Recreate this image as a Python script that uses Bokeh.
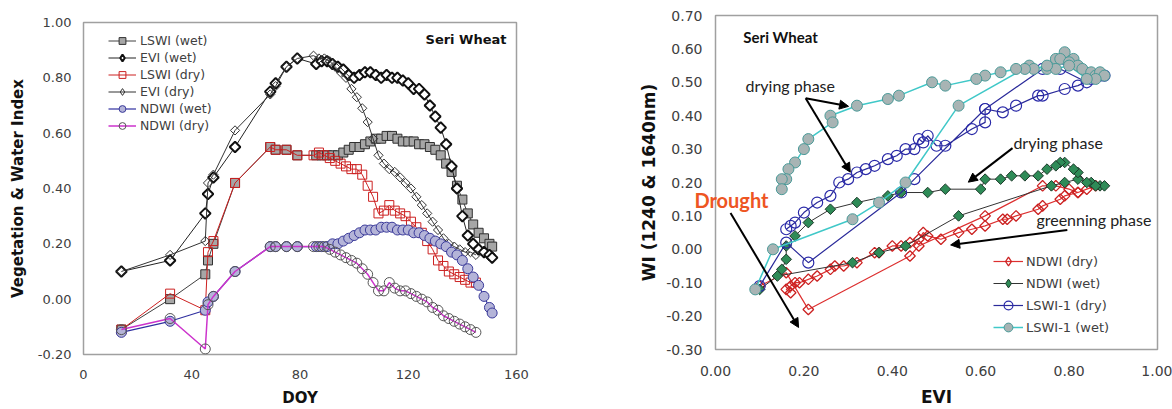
import numpy as np
from bokeh.plotting import figure
from bokeh.layouts import row
from bokeh.models import (Legend, LegendItem, Label, Arrow, NormalHead, LinearAxis,
                          NumeralTickFormatter, FixedTicker)
from bokeh.embed import file_html
from bokeh.resources import INLINE

# ---------------- Left panel data (DOY time series) ----------------
doy_wet = [14, 32, 45, 46, 48, 56, 69, 71, 75, 79,
           86, 88, 90, 92, 94, 96, 98, 100, 102, 104, 106, 108, 110, 112, 114, 116,
           118, 120, 122, 124, 126, 128, 130, 132, 134, 136, 138, 140, 142, 144, 146,
           148, 150, 151]
lswi_wet = [-0.11, 0.00, 0.09, 0.14, 0.20, 0.42, 0.55, 0.54, 0.54, 0.52,
            0.52, 0.52, 0.52, 0.52, 0.52, 0.53, 0.54, 0.55, 0.55, 0.56, 0.57, 0.58, 0.58, 0.59, 0.59, 0.58,
            0.57, 0.57, 0.57, 0.56, 0.56, 0.55, 0.54, 0.52, 0.49, 0.46, 0.41, 0.36, 0.31, 0.27, 0.24,
            0.22, 0.20, 0.19]
evi_wet = [0.10, 0.14, 0.31, 0.38, 0.44, 0.55, 0.75, 0.78, 0.84, 0.87,
           0.85, 0.86, 0.86, 0.85, 0.84, 0.83, 0.81, 0.80, 0.81, 0.82, 0.82, 0.81, 0.80, 0.81, 0.80, 0.80,
           0.79, 0.78, 0.76, 0.76, 0.74, 0.70, 0.66, 0.62, 0.56, 0.48, 0.40, 0.30, 0.23, 0.20, 0.18,
           0.17, 0.16, 0.15]
ndwi_wet = [-0.12, -0.08, -0.04, -0.01, 0.01, 0.10, 0.19, 0.19, 0.19, 0.19,
            0.19, 0.19, 0.19, 0.20, 0.20, 0.21, 0.22, 0.23, 0.24, 0.25, 0.25, 0.25, 0.26, 0.26, 0.26, 0.25,
            0.25, 0.25, 0.24, 0.24, 0.23, 0.22, 0.21, 0.20, 0.19, 0.17, 0.16, 0.14, 0.11, 0.08, 0.05,
            0.01, -0.03, -0.05]

doy_dry = [14, 32, 45, 46, 48, 56, 69, 71, 75, 79,
           85, 87, 89, 91, 93, 95, 97, 99, 101, 103, 105, 107, 109, 111, 113, 115,
           117, 119, 121, 123, 125, 127, 129, 131, 133, 135, 137, 139, 141, 143, 145]
lswi_dry = [-0.11, 0.02, -0.04, 0.17, 0.21, 0.42, 0.55, 0.54, 0.54, 0.52,
            0.52, 0.53, 0.52, 0.51, 0.50, 0.49, 0.48, 0.47, 0.47, 0.45, 0.41, 0.37, 0.31, 0.32, 0.34, 0.32,
            0.31, 0.30, 0.28, 0.26, 0.24, 0.21, 0.18, 0.14, 0.12, 0.10, 0.09, 0.08, 0.07, 0.06, 0.06]
evi_dry = [0.10, 0.16, 0.21, 0.42, 0.45, 0.61, 0.74, 0.77, 0.84, 0.87,
           0.88, 0.87, 0.87, 0.86, 0.84, 0.82, 0.80, 0.76, 0.73, 0.69, 0.64, 0.58, 0.52, 0.49, 0.47, 0.46,
           0.44, 0.42, 0.40, 0.37, 0.34, 0.31, 0.28, 0.25, 0.22, 0.20, 0.19, 0.18, 0.17, 0.17, 0.16]
ndwi_dry = [-0.11, -0.07, -0.18, -0.02, 0.01, 0.10, 0.19, 0.19, 0.19, 0.19,
            0.19, 0.19, 0.19, 0.18, 0.17, 0.16, 0.15, 0.14, 0.13, 0.11, 0.09, 0.06, 0.03, 0.03, 0.06, 0.04,
            0.03, 0.03, 0.02, 0.01, 0.00, -0.01, -0.03, -0.04, -0.06, -0.07, -0.08, -0.09, -0.10, -0.11, -0.12]

# ---------------- Right panel data (EVI vs WI) ----------------
r_ndwi_dry_x = [0.10, 0.16, 0.21, 0.44, 0.46, 0.61, 0.74, 0.77, 0.80, 0.82, 0.84, 0.86,
                0.82, 0.79, 0.78, 0.74, 0.73, 0.68, 0.66, 0.65, 0.61, 0.58, 0.55, 0.51, 0.48, 0.47,
                0.46, 0.44, 0.42, 0.40, 0.37, 0.36, 0.32, 0.29, 0.27, 0.26, 0.23, 0.21, 0.19, 0.18,
                0.17, 0.16, 0.17]
r_ndwi_dry_y = [-0.11, -0.07, -0.18, -0.02, 0.01, 0.10, 0.19, 0.19, 0.18, 0.17, 0.18, 0.19,
                0.17, 0.16, 0.15, 0.13, 0.12, 0.10, 0.09, 0.09, 0.07, 0.06, 0.05, 0.03, 0.04, 0.05,
                0.03, 0.02, 0.01, 0.01, -0.01, -0.01, -0.04, -0.05, -0.05, -0.06, -0.08, -0.09, -0.10, -0.10,
                -0.11, -0.12, -0.13]
r_ndwi_wet_x = [0.10, 0.14, 0.31, 0.37, 0.43, 0.55, 0.76, 0.79, 0.82, 0.85, 0.87, 0.88,
                0.86, 0.84, 0.82, 0.81, 0.79, 0.78, 0.77, 0.75, 0.73, 0.70, 0.67, 0.645, 0.61,
                0.60, 0.52, 0.48, 0.42, 0.39, 0.32, 0.26, 0.21, 0.18, 0.16, 0.16, 0.15]
r_ndwi_wet_y = [-0.12, -0.08, -0.04, -0.01, 0.01, 0.10, 0.19, 0.20, 0.21, 0.20, 0.19, 0.19,
                0.19, 0.20, 0.23, 0.24, 0.26, 0.26, 0.25, 0.24, 0.22, 0.22, 0.22, 0.21, 0.21,
                0.18, 0.18, 0.17, 0.17, 0.16, 0.14, 0.12, 0.08, 0.04, 0.01, -0.03, -0.06]
r_lswi_dry_x = [0.10, 0.16, 0.21, 0.42, 0.45, 0.61, 0.74, 0.78, 0.84, 0.87, 0.88, 0.85,
                0.82, 0.79, 0.74, 0.73, 0.68, 0.65, 0.61, 0.61, 0.58, 0.52, 0.50, 0.48, 0.47,
                0.46, 0.45, 0.43, 0.41, 0.39, 0.36, 0.34, 0.32, 0.30, 0.28, 0.26, 0.23, 0.20,
                0.18, 0.17, 0.16]
r_lswi_dry_y = [-0.11, 0.02, -0.04, 0.17, 0.21, 0.42, 0.54, 0.54, 0.50, 0.52, 0.52, 0.51,
                0.49, 0.48, 0.46, 0.46, 0.43, 0.41, 0.42, 0.38, 0.36, 0.31, 0.31, 0.34, 0.32,
                0.33, 0.30, 0.30, 0.28, 0.27, 0.25, 0.24, 0.23, 0.21, 0.20, 0.16, 0.14, 0.11,
                0.08, 0.07, 0.06]
r_lswi_wet_x = [0.09, 0.13, 0.31, 0.37, 0.43, 0.55, 0.71, 0.75, 0.77, 0.79, 0.81, 0.78,
                0.80, 0.82, 0.83, 0.85, 0.86, 0.87, 0.88, 0.86, 0.84, 0.80, 0.77, 0.75, 0.72,
                0.70, 0.68, 0.645, 0.61, 0.59, 0.52, 0.49, 0.415, 0.39, 0.32, 0.26, 0.265, 0.21,
                0.20, 0.18, 0.165, 0.16, 0.15, 0.15]
r_lswi_wet_y = [-0.12, 0.00, 0.09, 0.14, 0.20, 0.43, 0.55, 0.54, 0.57, 0.59, 0.57, 0.57,
                0.56, 0.55, 0.54, 0.53, 0.52, 0.53, 0.52, 0.51, 0.51, 0.55, 0.54, 0.55, 0.54,
                0.54, 0.54, 0.53, 0.52, 0.51, 0.49, 0.50, 0.46, 0.45, 0.43, 0.40, 0.38, 0.33,
                0.30, 0.26, 0.24, 0.21, 0.21, 0.18]

left_ticks_x = [0, 40, 80, 120, 160]
left_ticks_y = [-0.2, 0.0, 0.2, 0.4, 0.6, 0.8, 1.0]
right_ticks_x = [0.0, 0.2, 0.4, 0.6, 0.8, 1.0]
right_ticks_y = [-0.3, -0.2, -0.1, 0.0, 0.1, 0.2, 0.3, 0.4, 0.5, 0.6, 0.7]

TICKF = "DejaVu Sans"
ANN = "Lato"
ROT = np.pi / 4


def style(p, xt, yt, xlabel, ylabel, tick_size, title_size, ystand, xstand, ytitle_stand, xtitle_stand):
    p.xgrid.visible = False
    p.ygrid.visible = False
    p.outline_line_color = "#a0a0a0"
    p.outline_line_width = 1.5
    p.background_fill_color = "white"
    p.border_fill_color = "white"
    p.xaxis.ticker = FixedTicker(ticks=xt)
    p.yaxis.ticker = FixedTicker(ticks=yt)
    for ax in (p.xaxis[0], p.yaxis[0]):
        ax.axis_line_color = None
        ax.major_tick_line_color = None
        ax.minor_tick_line_color = None
        ax.major_tick_out = 0
        ax.major_tick_in = 0
        ax.major_label_text_font = TICKF
        ax.major_label_text_font_size = tick_size
        ax.major_label_text_color = "#404040"
        ax.axis_label_text_font = TICKF
        ax.axis_label_text_font_style = "bold"
        ax.axis_label_text_font_size = title_size
        ax.axis_label_text_color = "#111111"
    p.xaxis.axis_label = xlabel
    p.yaxis.axis_label = ylabel
    p.yaxis.major_label_standoff = ystand
    p.xaxis.major_label_standoff = xstand
    p.yaxis.axis_label_standoff = ytitle_stand
    p.xaxis.axis_label_standoff = xtitle_stand


# ---------------- Left figure ----------------
p1 = figure(width=560, height=409, x_range=(0, 160), y_range=(-0.2, 1.0),
            output_backend="svg", toolbar_location=None, frame_align=False,
            min_border_left=83, min_border_right=44, min_border_top=22, min_border_bottom=54)
style(p1, left_ticks_x, left_ticks_y, "DOY", "Vegetation & Water Index",
      "13px", "15px", 12, 15, 8, 7)
p1.yaxis.formatter = NumeralTickFormatter(format="0.00")
p1.xaxis.formatter = NumeralTickFormatter(format="0")

l1 = p1.line(doy_wet, lswi_wet, line_color="#404040", line_width=1)
s1 = p1.scatter(doy_wet, lswi_wet, marker="square", size=9, fill_color="#a6a6a6",
                line_color="#303030", line_width=1)
l2 = p1.line(doy_wet, evi_wet, line_color="#222222", line_width=1)
s2 = p1.scatter(doy_wet, evi_wet, marker="square", angle=ROT, size=7.5, fill_color="white",
                line_color="#111111", line_width=2)
l3 = p1.line(doy_dry, lswi_dry, line_color="#cc2020", line_width=1)
s3 = p1.scatter(doy_dry, lswi_dry, marker="square", size=9, fill_color=None,
                line_color="#cc2020", line_width=1)
l4 = p1.line(doy_dry, evi_dry, line_color="#333333", line_width=1)
s4 = p1.scatter(doy_dry, evi_dry, marker="square", angle=ROT, size=6.5, fill_color=None,
                line_color="#333333", line_width=1)
l5 = p1.line(doy_wet, ndwi_wet, line_color="#3030a0", line_width=1.2)
s5 = p1.scatter(doy_wet, ndwi_wet, marker="circle", size=10, fill_color="#b4b4d8",
                line_color="#3a3a9a", line_width=1)
l6 = p1.line(doy_dry, ndwi_dry, line_color="#cc33cc", line_width=1.5)
s6 = p1.scatter(doy_dry, ndwi_dry, marker="circle", size=10, fill_color=None,
                line_color="#555555", line_width=1)
# hidden diamond twins: legend swatches ignore rotation, so the key uses true diamonds
d2 = p1.scatter(doy_wet, evi_wet, marker="diamond", fill_color="white",
                line_color="#111111", line_width=2, visible=False)
d4 = p1.scatter(doy_dry, evi_dry, marker="diamond", fill_color=None,
                line_color="#333333", line_width=1, visible=False)

leg1 = Legend(items=[
    LegendItem(label="LSWI (wet)", renderers=[l1, s1]),
    LegendItem(label="EVI (wet)", renderers=[l2, d2]),
    LegendItem(label="LSWI (dry)", renderers=[l3, s3]),
    LegendItem(label="EVI (dry)", renderers=[l4, d4]),
    LegendItem(label="NDWI (wet)", renderers=[l5, s5]),
    LegendItem(label="NDWI (dry)", renderers=[l6, s6]),
], location=(25, 220), glyph_width=28, glyph_height=17, label_height=17, spacing=0,
    padding=0, margin=0, label_standoff=4, label_text_font=TICKF,
    label_text_font_size="12.5px", label_text_color="#404040",
    border_line_color=None, background_fill_alpha=0)
p1.add_layout(leg1)

p1.add_layout(Label(x=156.3, y=0.939, text="Seri Wheat", text_align="right",
                    text_baseline="middle", text_font=TICKF, text_font_style="bold",
                    text_font_size="13px", text_color="#111111"))

# ---------------- Right figure ----------------
p2 = figure(width=612, height=409, x_range=(0, 1.0), y_range=(-0.3, 0.7),
            output_backend="svg", toolbar_location=None, frame_align=False,
            min_border_left=155, min_border_right=15, min_border_top=15, min_border_bottom=59)
style(p2, right_ticks_x, right_ticks_y, "EVI", "WI (1240 & 1640nm)",
      "14px", "17px", 13, 16, 4, 8)
p2.yaxis.formatter = NumeralTickFormatter(format="0.00")
p2.xaxis.formatter = NumeralTickFormatter(format="0.00")

m1 = p2.line(r_ndwi_dry_x, r_ndwi_dry_y, line_color="#dd3030", line_width=1.2)
t1 = p2.scatter(r_ndwi_dry_x, r_ndwi_dry_y, marker="square", angle=ROT, size=7.5,
                fill_color=None, line_color="#cc2222", line_width=1.3)
m2 = p2.line(r_ndwi_wet_x, r_ndwi_wet_y, line_color="#333333", line_width=1)
t2 = p2.scatter(r_ndwi_wet_x, r_ndwi_wet_y, marker="square", angle=ROT, size=7.5,
                fill_color="#2e8b57", line_color="#1c3a2a", line_width=1)
m3 = p2.line(r_lswi_dry_x, r_lswi_dry_y, line_color="#2a2a9a", line_width=1.2)
t3 = p2.scatter(r_lswi_dry_x, r_lswi_dry_y, marker="circle", size=11, fill_color=None,
                line_color="#2a2aa8", line_width=1.2)
m4 = p2.line(r_lswi_wet_x, r_lswi_wet_y, line_color="#40c8c8", line_width=1.5)
t4 = p2.scatter(r_lswi_wet_x, r_lswi_wet_y, marker="circle", size=11, fill_color="#a8b4b4",
                line_color="#4a9a98", line_width=1)
e1 = p2.scatter(r_ndwi_dry_x, r_ndwi_dry_y, marker="diamond", fill_color=None,
                line_color="#cc2222", line_width=1.3, visible=False)
e2 = p2.scatter(r_ndwi_wet_x, r_ndwi_wet_y, marker="diamond", fill_color="#2e8b57",
                line_color="#1c3a2a", line_width=1, visible=False)

leg2 = Legend(items=[
    LegendItem(label="NDWI (dry)", renderers=[m1, e1]),
    LegendItem(label="NDWI (wet)", renderers=[m2, e2]),
    LegendItem(label="LSWI-1 (dry)", renderers=[m3, t3]),
    LegendItem(label="LSWI-1 (wet)", renderers=[m4, t4]),
], location=(278, 11), glyph_width=30, glyph_height=22, label_height=22, spacing=0,
    padding=0, margin=0, label_standoff=3, label_text_font=TICKF,
    label_text_font_size="13px", label_text_color="#404040",
    border_line_color=None, background_fill_alpha=0)
p2.add_layout(leg2)

p2.add_layout(Label(x=0.063, y=0.637, text="Seri Wheat", text_baseline="middle",
                    text_font=ANN, text_font_style="bold", text_font_size="15px",
                    text_color="#111111"))
p2.add_layout(Label(x=0.068, y=0.491, text="drying phase", text_baseline="middle",
                    text_font=ANN, text_font_size="16px", text_color="#222222"))
p2.add_layout(Label(x=0.674, y=0.321, text="drying phase", text_baseline="middle",
                    text_font=ANN, text_font_size="16px", text_color="#222222"))
p2.add_layout(Label(x=0.726, y=0.088, text="greenning phase", text_baseline="middle",
                    text_font=ANN, text_font_size="16px", text_color="#222222"))

# "Drought" straddles the frame edge: drawn as the single tick label of a bare
# outer axis whose negative standoff pulls the label over the frame edge
drought_y = 0.148
drought_axis = LinearAxis(ticker=FixedTicker(ticks=[drought_y]),
                          major_label_overrides={drought_y: "Drought"},
                          axis_line_color=None, major_tick_line_color=None,
                          minor_tick_line_color=None, major_tick_out=0, major_tick_in=0,
                          major_label_standoff=-132, major_label_text_font=ANN,
                          major_label_text_font_style="bold",
                          major_label_text_font_size="20px",
                          major_label_text_color="#ee5522")
p2.add_layout(drought_axis, "left")

for (xs, ys, xe, ye) in [(0.204, 0.452, 0.301, 0.428),
                         (0.204, 0.452, 0.305, 0.231),
                         (0.672, 0.303, 0.572, 0.201),
                         (0.796, 0.058, 0.532, 0.013),
                         (0.034, 0.109, 0.188, -0.234)]:
    p2.add_layout(Arrow(end=NormalHead(size=9, fill_color="black", line_color="black"),
                        x_start=xs, y_start=ys, x_end=xe, y_end=ye,
                        line_color="black", line_width=2))

layout = row(p1, p2, spacing=0)
open("out.html", "w").write(file_html(layout, INLINE))
